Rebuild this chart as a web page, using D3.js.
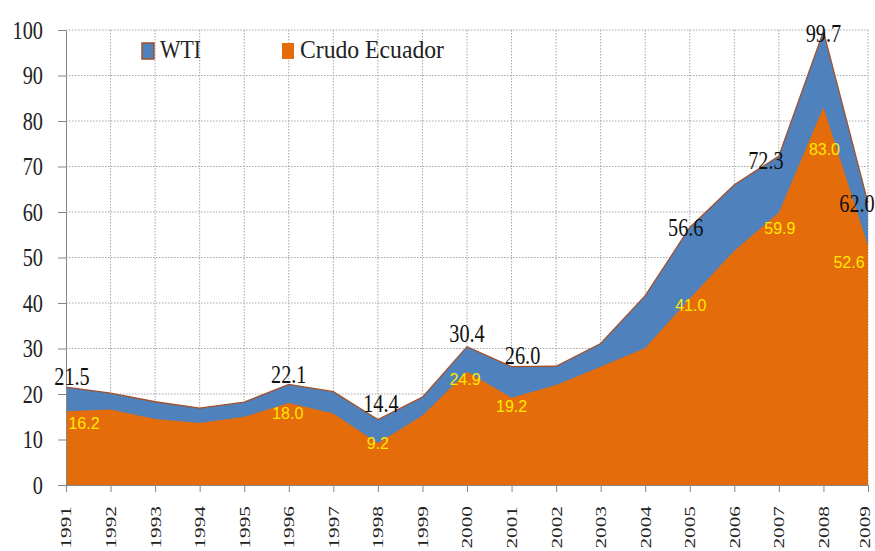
<!DOCTYPE html>
<html>
<head>
<meta charset="utf-8">
<script src="https://cdn.jsdelivr.net/npm/d3@7/dist/d3.min.js"></script>
<style>
  html, body { margin: 0; padding: 0; background: #fff; }
  svg { display: block; }
</style>
</head>
<body>
<div id="chart"></div>
<script>
// data
const years = [1991, 1992, 1993, 1994, 1995, 1996, 1997, 1998, 1999, 2000,
               2001, 2002, 2003, 2004, 2005, 2006, 2007, 2008, 2009];
const wti = [21.5, 20.2, 18.3, 16.9, 18.2, 22.1, 20.5, 14.4, 19.3, 30.4,
             26.0, 26.1, 31.1, 41.6, 56.6, 66.0, 72.3, 99.7, 62.0];
const crudo = [16.2, 16.6, 14.5, 13.6, 15.0, 18.0, 15.7, 9.2, 15.3, 24.9,
               19.2, 22.0, 26.0, 30.1, 41.0, 51.5, 59.9, 83.0, 52.6];
const labelYears = [1991, 1996, 1998, 2000, 2001, 2005, 2007, 2008, 2009];
const yTicks = [0, 10, 20, 30, 40, 50, 60, 70, 80, 90, 100];
const seriesNames = ["WTI", "Crudo Ecuador"];

// label nudges (layout only): [dx, dy] relative to the point
const wtiNudge = {1991: [6, -1], 1996: [0, 0], 1998: [3, -6], 2000: [0, -4], 2001: [11, -2],
                  2005: [-4, 10], 2007: [-13, 14], 2008: [0, 12], 2009: [-11, 10]};
const crudoNudge = {1991: [18, 6], 1996: [-1, 4], 1998: [0, -6], 2000: [-2, 1], 2001: [0, 2],
                    2005: [1, 1], 2007: [1, 10], 2008: [1, 36], 2009: [-19, 10]};

const width = 875, height = 551;
const plotLeft = 66, plotRight = 868, plotTop = 30, plotBottom = 485;
const blue = "#4f81bd", orange = "#e46c0a", brown = "#a0522d";

const svg = d3.select("#chart").append("svg")
  .attr("width", width).attr("height", height);

const x = d3.scaleLinear().domain([1991, 2009]).range([plotLeft, plotRight]);
const y = d3.scaleLinear().domain([0, 100]).range([plotBottom, plotTop]);

// grid
svg.append("g").selectAll("line")
  .data(yTicks.filter(d => d > 0))
  .join("line")
  .attr("x1", plotLeft).attr("x2", plotRight)
  .attr("y1", d => y(d)).attr("y2", d => y(d))
  .attr("stroke", "#a6a6a6").attr("stroke-dasharray", "1.5,1.5");
svg.append("g").selectAll("line")
  .data(years.slice(1))
  .join("line")
  .attr("x1", d => x(d)).attr("x2", d => x(d))
  .attr("y1", plotTop).attr("y2", plotBottom)
  .attr("stroke", "#a6a6a6").attr("stroke-dasharray", "1.5,1.5");

// areas
const rows = years.map((yr, i) => ({ year: yr, wti: wti[i], crudo: crudo[i] }));
const areaW = d3.area().x(d => x(d.year)).y0(y(0)).y1(d => y(d.wti));
const areaC = d3.area().x(d => x(d.year)).y0(y(0)).y1(d => y(d.crudo));
const lineW = d3.line().x(d => x(d.year)).y(d => y(d.wti));

svg.append("path").datum(rows).attr("d", areaW).attr("fill", blue);
svg.append("path").datum(rows).attr("d", lineW)
  .attr("fill", "none").attr("stroke", brown).attr("stroke-width", 1.3);
svg.append("path").datum(rows).attr("d", areaC).attr("fill", orange);

// axes
const serif = "'Liberation Serif', 'Times New Roman', serif";

const yAxis = svg.append("g")
  .attr("transform", `translate(${plotLeft},0)`)
  .call(d3.axisLeft(y).tickValues(yTicks).tickSize(8).tickSizeOuter(0));
yAxis.select(".domain").attr("stroke", "#868686");
yAxis.selectAll(".tick line").attr("stroke", "#868686");
yAxis.selectAll(".tick text")
  .attr("font-family", serif).attr("font-size", 26).attr("fill", "#222")
  .attr("x", -23 / 0.78).attr("dy", null).attr("y", 8)
  .attr("transform", "scale(0.78,1)");

const xAxis = svg.append("g")
  .attr("transform", `translate(0,${plotBottom})`)
  .call(d3.axisBottom(x).tickValues(years).tickFormat(d3.format("d")).tickSize(7).tickSizeOuter(0));
xAxis.select(".domain").attr("stroke", "#868686");
xAxis.selectAll(".tick line").attr("stroke", "#868686");
xAxis.selectAll(".tick text")
  .attr("font-family", serif).attr("font-size", 15).attr("fill", "#222")
  .attr("text-anchor", "end").attr("x", 0).attr("y", 0)
  .attr("dy", (d, i, n) => i === n.length - 1 ? "0.12em" : "0.33em") // last one kept inside the edge
  .attr("transform", "translate(0,21) rotate(-90) scale(1.42,1)");

// data labels
const lab = rows.filter(d => labelYears.includes(d.year));
svg.append("g").selectAll("text")
  .data(lab)
  .join("text")
  .attr("transform", d => {
    const n = wtiNudge[d.year];
    return `translate(${x(d.year) + n[0]},${y(d.wti) + n[1] - 1}) scale(0.78,1)`;
  })
  .attr("text-anchor", "middle")
  .attr("font-family", serif).attr("font-size", 26).attr("fill", "#111")
  .text(d => d.wti.toFixed(1));

svg.append("g").selectAll("text")
  .data(lab)
  .join("text")
  .attr("transform", d => {
    const n = crudoNudge[d.year];
    return `translate(${x(d.year) + n[0]},${y(d.crudo) + n[1] + 12}) scale(1,1.05)`;
  })
  .attr("text-anchor", "middle")
  .attr("font-family", "'Liberation Sans', Arial, sans-serif").attr("font-size", 16)
  .attr("fill", "#ffe800")
  .text(d => d.crudo.toFixed(1));

// legend
const legend = svg.append("g");
const legendItems = [
  { name: seriesNames[0], fill: blue, stroke: brown, x: 142, len: 41 },
  { name: seriesNames[1], fill: orange, stroke: "none", x: 282, len: 144 }
];
legendItems.forEach(it => {
  legend.append("rect")
    .attr("x", it.x).attr("y", 43).attr("width", 12).attr("height", 16)
    .attr("fill", it.fill).attr("stroke", it.stroke).attr("stroke-width", 1.5);
  legend.append("text")
    .attr("x", it.x + 18).attr("y", 58)
    .attr("font-family", serif).attr("font-size", 26).attr("fill", "#222")
    .attr("textLength", it.len).attr("lengthAdjust", "spacingAndGlyphs")
    .text(it.name);
});
</script>
</body>
</html>
